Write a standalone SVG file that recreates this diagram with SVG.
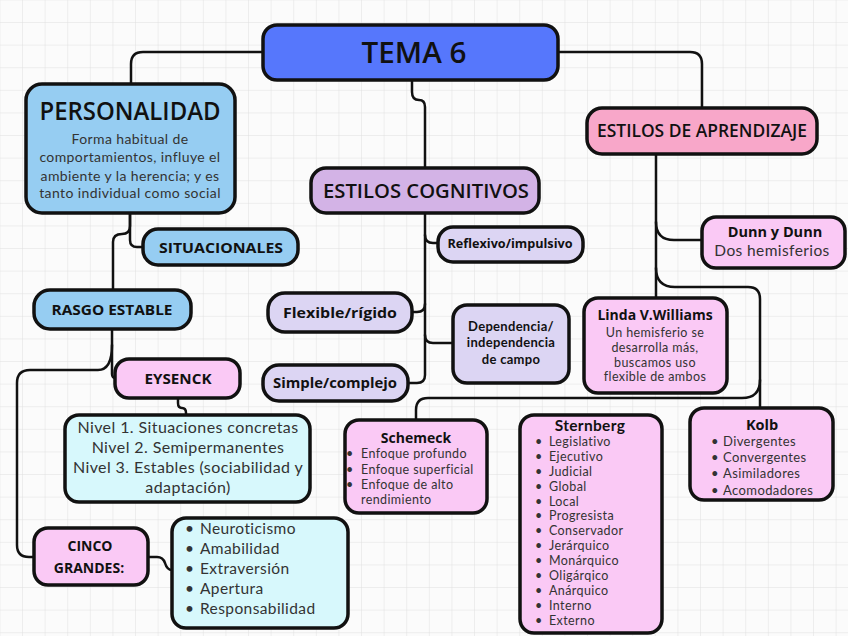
<svg xmlns="http://www.w3.org/2000/svg" width="848" height="636" viewBox="0 0 848 636">
<defs>
<pattern id="grid" x="0.4" y="0.4" width="22.6" height="22.6" patternUnits="userSpaceOnUse">
<path d="M22.6 0 V22.6 M0 22.6 H22.6" fill="none" stroke="#e0e0e0" stroke-width="1"/>
</pattern>
<style>
.n{stroke:#111;stroke-width:3.5}
.blue{fill:#96cdf2}
.pink{fill:#fac9f5}
.lav{fill:#dcd5f3}
.cyan{fill:#d7f8fc}
.title{font-family:"Open Sans","DejaVu Sans",sans-serif;font-weight:600;fill:#111}
.b{font-family:"Open Sans","Noto Sans",sans-serif;font-weight:700;fill:#111}
.bl{font-family:Lato,"Open Sans",sans-serif;font-weight:700;fill:#111}
.r{font-family:Lato,"Open Sans",sans-serif;fill:#333;letter-spacing:0.4px}
.c{text-anchor:middle}
#connectors path{fill:none;stroke:#111;stroke-width:2.5;stroke-linecap:round;stroke-linejoin:round}
</style>
</defs>
<rect width="848" height="636" fill="#fbfbfb"/>
<rect width="848" height="636" fill="url(#grid)"/>

<g id="connectors">
<path d="M263 52 H143 Q131 52 131 64 V84"/>
<path d="M558 52 H690 Q702 52 702 64 V108"/>
<path d="M412 80 V92 Q412 100 419 100 Q425 100 425 107 V168"/>
<path d="M425 212 V375 Q425 383 417 383 H408"/>
<path d="M425 235 Q425 243 433 243 H438"/>
<path d="M425 304 Q425 312 417 312 H412"/>
<path d="M425 335 Q425 343 433 343 H453"/>
<path d="M130 213 V240 Q130 247 137 247 H143"/>
<path d="M130 213 V226 Q130 234 122 234 Q113 234 113 242 V290"/>
<path d="M112 329 V374 Q112 378 116 378"/>
<path d="M112 345 Q112 370 98 370 H30 Q17 370 17 383 V545 Q17 557 29 557 H35"/>
<path d="M178 398 V403 Q178 408 182 408 Q186 408 186 413 V415"/>
<path d="M148 557 H157 Q163 557 165 563 Q167 570 172 570"/>
<path d="M656 154 V298"/>
<path d="M656 222 Q656 240 674 240 H702"/>
<path d="M656 268 Q656 287 675 287 H748 Q760 287 760 299 V408"/>
<path d="M760 380 Q760 398 742 398 H428 Q416 398 416 410 V420"/>
</g>

<g id="tema">
<rect class="n" x="263" y="25" width="295" height="55" rx="14" fill="#5677fc"/>
<text class="title c" x="414" y="63" font-size="29" textLength="105" lengthAdjust="spacingAndGlyphs">TEMA 6</text>
</g>

<g id="personalidad">
<rect class="n blue" x="26" y="84" width="209" height="129" rx="16"/>
<text class="title c" x="130" y="120" font-size="25" textLength="181" lengthAdjust="spacingAndGlyphs">PERSONALIDAD</text>
<text class="r c" x="130" y="144" font-size="14">Forma habitual de</text>
<text class="r c" x="130" y="162" font-size="14">comportamientos, influye el</text>
<text class="r c" x="130" y="181" font-size="14">ambiente y la herencia; y es</text>
<text class="r c" x="130" y="198" font-size="14">tanto individual como social</text>
</g>

<g id="situacionales">
<rect class="n blue" x="143" y="229" width="155" height="36" rx="15"/>
<text class="b c" x="221" y="253" font-size="14" textLength="124" lengthAdjust="spacingAndGlyphs">SITUACIONALES</text>
</g>

<g id="rasgo">
<rect class="n blue" x="34" y="290" width="157" height="39" rx="16"/>
<text class="b c" x="112" y="315" font-size="14" textLength="121" lengthAdjust="spacingAndGlyphs">RASGO ESTABLE</text>
</g>

<g id="eysenck">
<rect class="n pink" x="115" y="359" width="125" height="39" rx="14"/>
<text class="b c" x="178" y="384" font-size="14" textLength="67" lengthAdjust="spacingAndGlyphs">EYSENCK</text>
</g>

<g id="niveles">
<rect class="n cyan" x="65" y="415" width="245" height="87" rx="14"/>
<text class="r c" x="188" y="433" font-size="16">Nivel 1. Situaciones concretas</text>
<text class="r c" x="188" y="453" font-size="16">Nivel 2. Semipermanentes</text>
<text class="r c" x="188" y="473" font-size="16">Nivel 3. Estables (sociabilidad y</text>
<text class="r c" x="188" y="493" font-size="16">adaptación)</text>
</g>

<g id="cinco">
<rect class="n pink" x="34" y="528" width="114" height="57" rx="14"/>
<text class="b c" x="90" y="551" font-size="14">CINCO</text>
<text class="b c" x="89" y="573" font-size="14">GRANDES:</text>
</g>

<g id="bigfive">
<rect class="n cyan" x="172" y="518" width="176" height="110" rx="14"/>
<g class="r" font-size="15.5">
<text x="185" y="534">•</text><text x="200" y="534">Neuroticismo</text>
<text x="185" y="554">•</text><text x="200" y="554">Amabilidad</text>
<text x="185" y="574">•</text><text x="200" y="574">Extraversión</text>
<text x="185" y="594">•</text><text x="200" y="594">Apertura</text>
<text x="185" y="614">•</text><text x="200" y="614">Responsabilidad</text>
</g>
</g>

<g id="cognitivos">
<rect class="n" x="311" y="168" width="228" height="45" rx="15" fill="#d3b3e6"/>
<text class="title c" x="426" y="198" font-size="20" textLength="206" lengthAdjust="spacingAndGlyphs">ESTILOS COGNITIVOS</text>
</g>

<g id="reflexivo">
<rect class="n lav" x="438" y="227" width="145" height="35" rx="15"/>
<text class="b c" x="510" y="248" font-size="12" textLength="125" lengthAdjust="spacingAndGlyphs">Reflexivo/impulsivo</text>
</g>

<g id="flexible">
<rect class="n lav" x="268" y="293" width="144" height="39" rx="17"/>
<text class="b c" x="340" y="318" font-size="15" textLength="114" lengthAdjust="spacingAndGlyphs">Flexible/rígido</text>
</g>

<g id="simple">
<rect class="n lav" x="263" y="365" width="145" height="36" rx="16"/>
<text class="b c" x="335" y="388" font-size="14" textLength="124" lengthAdjust="spacingAndGlyphs">Simple/complejo</text>
</g>

<g id="dependencia">
<rect class="n lav" x="453" y="305" width="116" height="78" rx="14"/>
<text class="bl c" x="511" y="331" font-size="13" letter-spacing="0.3">Dependencia/</text>
<text class="bl c" x="511" y="347" font-size="13" letter-spacing="0.3">independencia</text>
<text class="bl c" x="511" y="364" font-size="13" letter-spacing="0.3">de campo</text>
</g>

<g id="aprendizaje">
<rect class="n" x="587" y="108" width="230" height="46" rx="15" fill="#f8a7c9"/>
<text class="title c" x="702" y="137" font-size="18" textLength="210" lengthAdjust="spacingAndGlyphs">ESTILOS DE APRENDIZAJE</text>
</g>

<g id="dunn">
<rect class="n pink" x="702" y="217" width="143" height="51" rx="14"/>
<text class="b c" x="775" y="237" font-size="14.5">Dunn y Dunn</text>
<text class="r c" x="772" y="256" font-size="15.5">Dos hemisferios</text>
</g>

<g id="linda">
<rect class="n pink" x="584" y="298" width="143" height="95" rx="14"/>
<text class="b c" x="655" y="320" font-size="14">Linda V.Williams</text>
<text class="r c" x="655" y="337" font-size="12.5">Un hemisferio se</text>
<text class="r c" x="655" y="352" font-size="12.5">desarrolla más,</text>
<text class="r c" x="655" y="367" font-size="12.5">buscamos uso</text>
<text class="r c" x="655" y="381" font-size="12.5">flexible de ambos</text>
</g>

<g id="schemeck">
<rect class="n pink" x="345" y="420" width="142" height="93" rx="14"/>
<text class="b c" x="416" y="443" font-size="14">Schemeck</text>
<g class="r" font-size="12.5">
<text x="346" y="458">•</text><text x="361" y="458">Enfoque profundo</text>
<text x="346" y="474">•</text><text x="361" y="474">Enfoque superficial</text>
<text x="346" y="489">•</text><text x="361" y="489">Enfoque de alto</text>
<text x="361" y="504">rendimiento</text>
</g>
</g>

<g id="sternberg">
<rect class="n pink" x="520" y="415" width="142" height="218" rx="14"/>
<text class="bl c" x="590" y="431" font-size="15.5" letter-spacing="0.3">Sternberg</text>
<g class="r" font-size="12.5">
<text x="535" y="446">•</text><text x="549" y="446">Legislativo</text>
<text x="535" y="461">•</text><text x="549" y="461">Ejecutivo</text>
<text x="535" y="476">•</text><text x="549" y="476">Judicial</text>
<text x="535" y="491">•</text><text x="549" y="491">Global</text>
<text x="535" y="506">•</text><text x="549" y="506">Local</text>
<text x="535" y="520">•</text><text x="549" y="520">Progresista</text>
<text x="535" y="535">•</text><text x="549" y="535">Conservador</text>
<text x="535" y="550">•</text><text x="549" y="550">Jerárquico</text>
<text x="535" y="565">•</text><text x="549" y="565">Monárquico</text>
<text x="535" y="580">•</text><text x="549" y="580">Oligárqico</text>
<text x="535" y="595">•</text><text x="549" y="595">Anárquico</text>
<text x="535" y="610">•</text><text x="549" y="610">Interno</text>
<text x="535" y="625">•</text><text x="549" y="625">Externo</text>
</g>
</g>

<g id="kolb">
<rect class="n pink" x="690" y="408" width="143" height="92" rx="14"/>
<text class="b c" x="762" y="430" font-size="14.5">Kolb</text>
<g class="r" font-size="13">
<text x="711" y="446">•</text><text x="723" y="446">Divergentes</text>
<text x="711" y="462">•</text><text x="723" y="462">Convergentes</text>
<text x="711" y="478">•</text><text x="723" y="478">Asimiladores</text>
<text x="711" y="495">•</text><text x="723" y="495">Acomodadores</text>
</g>
</g>
</svg>
